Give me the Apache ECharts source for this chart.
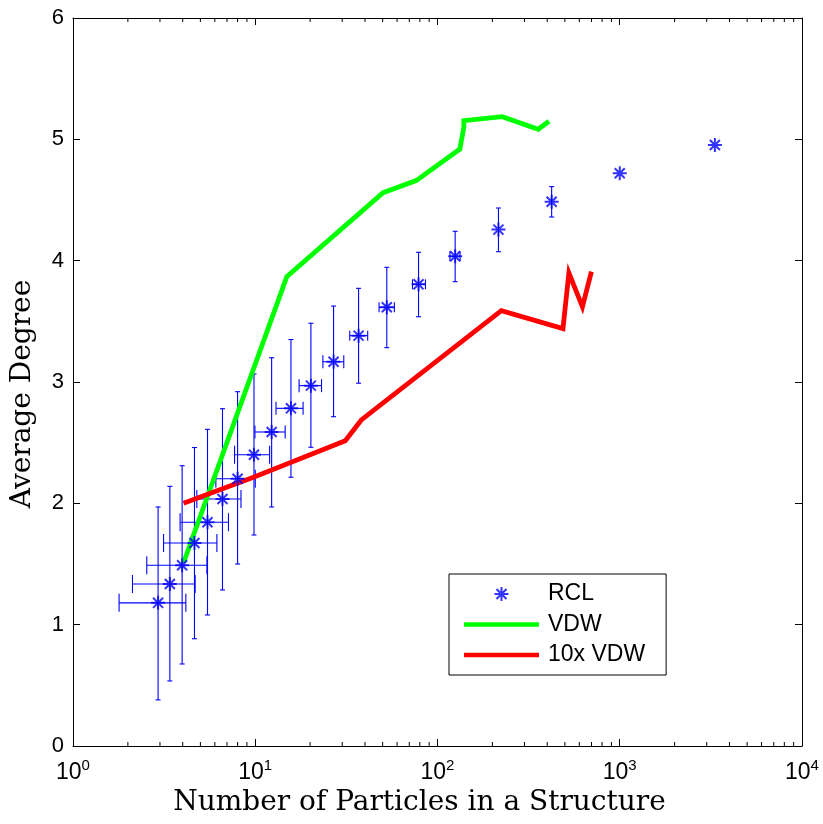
<!DOCTYPE html>
<html>
<head>
<meta charset="utf-8">
<script src="https://cdn.jsdelivr.net/npm/echarts@6/dist/echarts.min.js"></script>
<style>
  html, body { margin: 0; padding: 0; background: #fff; }
  #chart { width: 823px; height: 824px; }
</style>
</head>
<body>
<div id="chart"></div>
<script>
// RCL means with error ranges (x = particle count, y = average degree)
const rclX     = [2.93, 3.40, 3.97, 4.64, 5.47, 6.61, 8.0, 9.84, 12.3, 15.7, 20.2, 26.9, 36.9, 52.7, 78.7, 125, 216, 423, 1000, 3327];
const rclY     = [1.18, 1.335, 1.49, 1.673, 1.844, 2.036, 2.203, 2.40, 2.588, 2.783, 2.97, 3.167, 3.382, 3.616, 3.805, 4.036, 4.256, 4.486, 4.72, 4.953];
const rclYLow  = [0.38, 0.536, 0.676, 0.884, 1.08, 1.286, 1.50, 1.739, 1.97, 2.215, 2.462, 2.714, 2.99, 3.283, 3.538, 3.827, 4.074, 4.36, 4.72, 4.953];
const rclYHigh = [1.97, 2.14, 2.31, 2.46, 2.61, 2.78, 2.92, 3.066, 3.20, 3.35, 3.484, 3.626, 3.772, 3.945, 4.069, 4.242, 4.434, 4.61, 4.72, 4.953];
const rclXLow  = [1.79, 2.12, 2.54, 3.14, 3.87, 4.78, 6.08, 7.70, 9.96, 13.0, 17.4, 23.5, 33.0, 47.8, 72.9, 117, 216, 423, 1000, 3327];
const rclXHigh = [4.16, 4.68, 5.43, 6.16, 7.13, 8.35, 10.0, 11.99, 14.6, 18.3, 23.1, 30.6, 41.4, 58.0, 85.9, 133, 216, 423, 1000, 3327];

// VDW curve
const vdwX = [4.04, 14.9, 50.3, 76.4, 132.7, 139.5, 139.5, 226.6, 357, 409];
const vdwY = [1.51, 3.868, 4.56, 4.66, 4.92, 5.10, 5.154, 5.187, 5.083, 5.149];

// 10x VDW curve
const vdw10X = [4.04, 9.78, 31.2, 38.2, 224, 488, 526, 624, 699];
const vdw10Y = [2.0, 2.215, 2.516, 2.687, 3.588, 3.44, 3.90, 3.62, 3.91];

// log-axis minor tick positions
const minorTicks = [2, 3, 4, 5, 6, 7, 8, 9, 20, 30, 40, 50, 60, 70, 80, 90,
  200, 300, 400, 500, 600, 700, 800, 900, 2000, 3000, 4000, 5000, 6000, 7000, 8000, 9000];

const chart = echarts.init(document.getElementById('chart'));

const sans = 'Liberation Sans';
const blue = '#0000ff';
const star = 'path://M0,-6L0,6M-6,0L6,0M-4.3,-4.3L4.3,4.3M-4.3,4.3L4.3,-4.3';
const bar = 'path://M0,0H75V4.5H0Z';

const errData = rclX.map((x, i) => [x, rclY[i], rclXLow[i], rclXHigh[i], rclYLow[i], rclYHigh[i], i]);

const axisLine = { show: true, onZero: false, lineStyle: { color: '#000', width: 1 } };

const option = {
  animation: false,
  backgroundColor: '#fff',
  grid: { left: 73, right: 21, top: 18, bottom: 78, containLabel: false },
  legend: {
    data: [
      { name: 'RCL' },
      { name: 'VDW', icon: bar },
      { name: '10x VDW', icon: bar }
    ],
    orient: 'vertical',
    left: 449,
    top: 574,
    padding: [8, 21, 8, 15],
    itemGap: 6.5,
    itemWidth: 75,
    itemHeight: 14,
    symbolKeepAspect: true,
    borderColor: '#000',
    borderWidth: 1,
    backgroundColor: '#fff',
    textStyle: { fontFamily: sans, fontSize: 23, color: '#000', lineHeight: 24, padding: [0, 0, 0, 4] }
  },
  xAxis: [
    {
      type: 'log', logBase: 10, min: 1, max: 10000, splitNumber: 4,
      position: 'bottom',
      name: 'Number of Particles in a Structure',
      nameLocation: 'middle', nameGap: 42,
      nameTextStyle: { fontFamily: 'DejaVu Serif', fontSize: 28, color: '#000', padding: [0, 36, 0, 0] },
      axisLine: axisLine,
      axisTick: { inside: true, length: 7, lineStyle: { color: '#000' } },
      splitLine: { show: false },
      axisLabel: {
        margin: 12,
        formatter: v => '{b|10}{s|' + Math.round(Math.log10(v)) + '}',
        rich: {
          b: { fontFamily: sans, fontSize: 23, color: '#000', lineHeight: 23, padding: [6, 0, 0, 0] },
          s: { fontFamily: sans, fontSize: 15, color: '#000', lineHeight: 15, verticalAlign: 'top' }
        }
      }
    },
    {
      type: 'log', logBase: 10, min: 1, max: 10000, splitNumber: 4,
      position: 'top',
      axisLine: axisLine,
      axisTick: { inside: true, length: 7, lineStyle: { color: '#000' } },
      axisLabel: { show: false },
      splitLine: { show: false }
    }
  ],
  yAxis: [
    {
      type: 'value', min: 0, max: 6, interval: 1,
      position: 'left',
      name: 'Average Degree',
      nameLocation: 'middle', nameGap: 36,
      nameTextStyle: { fontFamily: 'DejaVu Serif', fontSize: 28, color: '#000', padding: [0, 24, 0, 0] },
      axisLine: axisLine,
      axisTick: { inside: true, length: 7, lineStyle: { color: '#000' } },
      splitLine: { show: false },
      axisLabel: { margin: 9, fontFamily: sans, fontSize: 22, color: '#000' }
    },
    {
      type: 'value', min: 0, max: 6, interval: 1,
      position: 'right',
      axisLine: axisLine,
      axisTick: { inside: true, length: 7, lineStyle: { color: '#000' } },
      axisLabel: { show: false },
      splitLine: { show: false }
    }
  ],
  series: [
    {
      name: 'minor ticks',
      type: 'custom',
      silent: true,
      clip: false,
      z: 5,
      data: minorTicks.map(v => [v, 0]),
      renderItem: (params, api) => {
        const b = api.coord([api.value(0), 0]);
        const t = api.coord([api.value(0), 6]);
        const st = { stroke: '#000', lineWidth: 1 };
        return {
          type: 'group',
          children: [
            { type: 'line', shape: { x1: b[0], y1: b[1], x2: b[0], y2: b[1] - 4 }, style: st },
            { type: 'line', shape: { x1: t[0], y1: t[1], x2: t[0], y2: t[1] + 4 }, style: st }
          ]
        };
      }
    },
    {
      name: 'RCL error',
      type: 'custom',
      silent: true,
      z: 2,
      data: errData,
      encode: { x: [0, 2, 3], y: [1, 4, 5] },
      renderItem: (params, api) => {
        const y = api.value(1);
        const x = api.value(0);
        const i = api.value(6);
        const top = api.coord([x, api.value(5)]);
        const bot = api.coord([x, api.value(4)]);
        const lft = api.coord([api.value(2), y]);
        const rgt = api.coord([api.value(3), y]);
        const st = { stroke: blue, lineWidth: 1.1 };
        const ch = i < 8 ? 9 : (i < 12 ? 6.5 : 5);
        const vc = 2.5;
        const kids = [];
        if (bot[1] - top[1] > 1) {
          kids.push({ type: 'line', shape: { x1: top[0], y1: top[1], x2: bot[0], y2: bot[1] }, style: st });
          kids.push({ type: 'line', shape: { x1: top[0] - vc, y1: top[1], x2: top[0] + vc, y2: top[1] }, style: st });
          kids.push({ type: 'line', shape: { x1: bot[0] - vc, y1: bot[1], x2: bot[0] + vc, y2: bot[1] }, style: st });
        }
        if (rgt[0] - lft[0] > 1) {
          kids.push({ type: 'line', shape: { x1: lft[0], y1: lft[1], x2: rgt[0], y2: rgt[1] }, style: st });
          kids.push({ type: 'line', shape: { x1: lft[0], y1: lft[1] - ch, x2: lft[0], y2: lft[1] + ch }, style: st });
          kids.push({ type: 'line', shape: { x1: rgt[0], y1: rgt[1] - ch, x2: rgt[0], y2: rgt[1] + ch }, style: st });
        }
        return { type: 'group', children: kids };
      }
    },
    {
      name: 'VDW',
      type: 'line',
      data: vdwX.map((x, i) => [x, vdwY[i]]),
      symbol: 'none',
      z: 3,
      lineStyle: { color: '#00ff00', width: 4.8, join: 'miter' },
      itemStyle: { color: '#00ff00' }
    },
    {
      name: '10x VDW',
      type: 'line',
      data: vdw10X.map((x, i) => [x, vdw10Y[i]]),
      symbol: 'none',
      z: 3,
      lineStyle: { color: '#ff0000', width: 4.8, join: 'miter' },
      itemStyle: { color: '#ff0000' }
    },
    {
      name: 'RCL',
      type: 'scatter',
      data: rclX.map((x, i) => [x, rclY[i]]),
      symbol: star,
      symbolSize: 14,
      symbolKeepAspect: true,
      z: 4,
      itemStyle: { color: 'rgba(0,0,0,0)', borderColor: blue, borderWidth: 2 }
    }
  ]
};

chart.setOption(option);
</script>
</body>
</html>
